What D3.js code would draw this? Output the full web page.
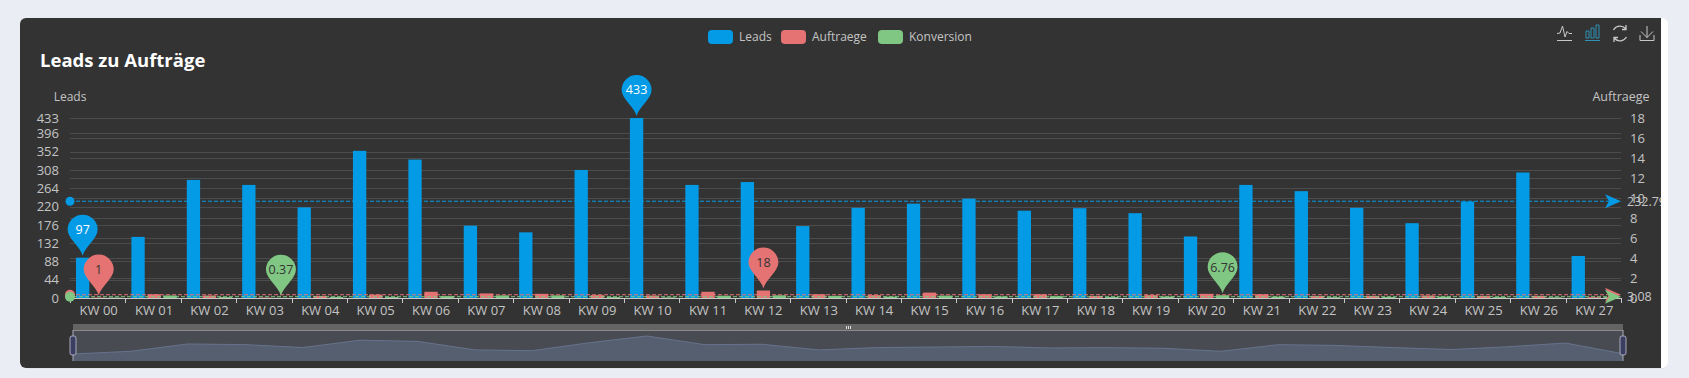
<!DOCTYPE html>
<html><head><meta charset="utf-8">
<script src="https://cdn.jsdelivr.net/npm/d3@7"></script>
<style>html,body{margin:0;padding:0;background:#ebedf5;overflow:hidden}svg{display:block}text{font-family:"Open Sans","Noto Sans",sans-serif}</style>
</head><body><div id="c"></div>
<script>
const categories=["KW 00","KW 01","KW 02","KW 03","KW 04","KW 05","KW 06","KW 07","KW 08","KW 09","KW 10","KW 11","KW 12","KW 13","KW 14","KW 15","KW 16","KW 17","KW 18","KW 19","KW 20","KW 21","KW 22","KW 23","KW 24","KW 25","KW 26","KW 27"];
const leads=[97,147,284,272,218,354,333,174,158,308,433,272,279,173,217,227,239,210,216,204,148,272,257,217,180,232,302,101];
const auftraege=[1,9,6,1,5,8,15,11,10,7,6,15,18,9,7,13,9,9,5,7,10,9,5,5,6,5,5,2];
const konversion=[1.03,6.12,2.11,0.37,2.29,2.26,4.5,6.32,6.33,2.27,1.39,5.51,6.45,5.2,3.23,5.73,3.77,4.29,2.31,3.43,6.76,3.31,1.95,2.3,3.33,2.16,1.66,1.98];
const seriesNames=["Leads","Auftraege","Konversion"];
const seriesColors=["#039be5","#e57373","#81c784"];
const meanValues=[232.79,7.79,3.08];
const meanLabels=["232.79","","3.08"];
const leftTicks=[0,44,88,132,176,220,264,308,352,396,433];
const rightTicks=[0,2,4,6,8,10,12,14,16,18];
const markPoints=[
 {s:0,i:10,label:"433"},{s:0,i:0,label:"97"},
 {s:1,i:12,label:"18"},{s:1,i:0,label:"1"},
 {s:2,i:20,label:"6.76"},{s:2,i:3,label:"0.37"}];

const W=1689,H=378,L=70,R=1621,T=118,B=298;
const svg=d3.select("#c").append("svg").attr("width",W).attr("height",H);
const data=[leads,auftraege,konversion];
const textCol="#c4c4c4";

svg.append("rect").attr("x",24).attr("y",20).attr("width",1644).attr("height",349).attr("rx",6).attr("fill","#e3e5ec");
svg.append("rect").attr("x",1640).attr("y",18).attr("width",28).attr("height",350).attr("rx",6).attr("fill","#fff");
svg.append("path").attr("d","M1661 18H26a6 6 0 0 0-6 6V362a6 6 0 0 0 6 6H1661Z").attr("fill","#333");

const x=d3.scaleBand().domain(categories).range([L+1,R+1]);
const inner=d3.scaleBand().domain(seriesNames).range([-22.7,22.7]).paddingInner(0.17);
const yL=d3.scaleLinear().domain([0,433]).range([B,T]);
const yR=d3.scaleLinear().domain([0,18]).range([B,T]);

svg.append("defs").append("clipPath").attr("id","card").append("rect").attr("x",20).attr("y",18).attr("width",1641).attr("height",350);
const g=svg.append("g").attr("clip-path","url(#card)");

// grid
g.append("g").selectAll("line").data(leftTicks.filter(d=>d>0)).join("line")
 .attr("x1",L).attr("x2",R).attr("y1",d=>Math.round(yL(d))+.5).attr("y2",d=>Math.round(yL(d))+.5).attr("stroke","#4c4c4c");
g.append("g").selectAll("line").data(rightTicks.filter(d=>d>0)).join("line")
 .attr("x1",L).attr("x2",R).attr("y1",d=>Math.round(yR(d))+.5).attr("y2",d=>Math.round(yR(d))+.5).attr("stroke","#4c4c4c");

// bars
seriesNames.forEach((n,si)=>{
 g.append("g").selectAll("rect").data(data[si]).join("rect")
  .attr("x",(d,i)=>x(categories[i])+x.bandwidth()/2+inner(n))
  .attr("width",inner.bandwidth())
  .attr("y",d=>yL(d)).attr("height",d=>B-yL(d)).attr("fill",seriesColors[si]);
});

// x axis
const ax=g.append("g").attr("transform",`translate(0,${B})`).call(d3.axisBottom(x).tickSize(0).tickPadding(8));
ax.select(".domain").attr("stroke","#c8c8c8").attr("d",`M${L},.5H${R}`);
ax.selectAll("text").attr("fill",textCol).attr("font-size",13);
g.append("g").selectAll("line").data([...categories.map(c=>x(c)-1),R]).join("line")
 .attr("x1",d=>Math.round(d)+.5).attr("x2",d=>Math.round(d)+.5).attr("y1",B).attr("y2",B+5).attr("stroke","#c8c8c8");

// y axes
const al=g.append("g").attr("transform",`translate(${L},0)`).call(d3.axisLeft(yL).tickValues(leftTicks).tickSize(0).tickPadding(11));
al.select(".domain").remove();
al.selectAll("text").attr("fill",textCol).attr("font-size",13);
const ar=g.append("g").attr("transform",`translate(${R},0)`).call(d3.axisRight(yR).tickValues(rightTicks).tickSize(0).tickPadding(9));
ar.select(".domain").remove();
ar.selectAll("text").attr("fill",textCol).attr("font-size",13);

g.append("text").attr("x",L).attr("y",101).attr("text-anchor","middle").attr("fill",textCol).attr("font-size",12).text("Leads");
g.append("text").attr("x",R).attr("y",101).attr("text-anchor","middle").attr("fill",textCol).attr("font-size",12.5).text("Auftraege");

// mean lines
meanValues.forEach((m,si)=>{
 const y=yL(m),c=seriesColors[si];
 const mg=g.append("g");
 mg.append("line").attr("x1",L).attr("x2",R-10).attr("y1",y).attr("y2",y).attr("stroke",c).attr("stroke-dasharray","4 2").attr("stroke-dashoffset",si===2?3:0);
 mg.append("circle").attr("cx",L).attr("cy",y).attr("r",si===0?4.5:5).attr("fill",c);
 mg.append("path").attr("d",`M${R},${y}L${R-16},${y-7}L${R-12},${y}L${R-16},${y+7}Z`).attr("fill",c);
 if(meanLabels[si]) mg.append("text").attr("x",R+6).attr("y",y).attr("dy",".35em").attr("fill",textCol).attr("font-size",12.5).text(meanLabels[si]);
});

// pins
markPoints.forEach(p=>{
 const n=seriesNames[p.s],cx=x(categories[p.i])+x.bandwidth()/2+inner(n)+inner.bandwidth()/2;
 const tip=yL(data[p.s][p.i])-2, r=15, cy=tip-26;
 const pg=g.append("g");
 pg.append("path").attr("d",`M${cx},${tip}C${cx-2},${tip-9} ${cx-r},${cy+9} ${cx-r},${cy}A${r},${r} 0 1 1 ${cx+r},${cy}C${cx+r},${cy+9} ${cx+2},${tip-9} ${cx},${tip}Z`).attr("fill",seriesColors[p.s]);
 pg.append("text").attr("x",cx).attr("y",cy).attr("dy",".35em").attr("text-anchor","middle").attr("font-size",12.5)
  .attr("fill",p.s===0?"#fff":"#333").text(p.label);
});

// title
g.append("text").attr("x",40).attr("y",67).attr("fill","#fff").attr("font-size",18.5).attr("font-weight",700).text("Leads zu Aufträge");

// legend
const legX=[708,781,878];
seriesNames.forEach((n,i)=>{
 g.append("rect").attr("x",legX[i]).attr("y",30).attr("width",25).attr("height",14).attr("rx",4).attr("fill",seriesColors[i]);
 g.append("text").attr("x",legX[i]+31).attr("y",41).attr("fill",textCol).attr("font-size",12).text(n);
});

// toolbox
const ic="#c8c8c8";
const tb=g.append("g").attr("fill","none").attr("stroke",ic);
tb.append("path").attr("d","M1557 40.500H1572M1557 33.500L1560 33L1562.500 26L1565 37L1567 31.500L1569 33.500H1572");
const b2=g.append("g").attr("fill","none").attr("stroke","#2f93b5");
b2.append("path").attr("d","M1585 40.500H1600M1586 38V31H1589V38ZM1591 38V28H1594V38ZM1596 38V25H1599V38Z");
tb.append("path").attr("stroke-width",1.3).attr("d","M1613.500 30A7.500 7.500 0 0 1 1625.500 28.500M1626.500 37A7.500 7.500 0 0 1 1614.500 38.500M1626 25V29.500H1622M1614 42V37.500H1618");
tb.append("path").attr("d","M1640 35V40.500H1654V35M1647 26V37.500M1641 31.500L1647 37.500L1653 31.500");

// data zoom
const zx=d3.scalePoint().domain(categories).range([73,1623]);
const zy=d3.scaleLinear().domain([0,433]).range([359.200,336]);
const dz=svg.append("g");
dz.append("rect").attr("x",73).attr("y",324).attr("width",1550).attr("height",6).attr("fill","#646464");
dz.append("rect").attr("x",73).attr("y",330).attr("width",1550).attr("height",31).attr("fill","#484b52");
dz.append("line").attr("x1",73).attr("x2",1623).attr("y1",330.5).attr("y2",330.5).attr("stroke","#8a8a8a");
const area=d3.area().x((d,i)=>zx(categories[i])).y0(361).y1(d=>zy(d));
dz.append("path").datum(leads).attr("d",area).attr("fill","#565f70");
dz.append("path").datum(leads).attr("d",d3.line().x((d,i)=>zx(categories[i])).y(d=>zy(d))).attr("fill","none").attr("stroke","#66738c");
[73,1623].forEach(hx=>{
 dz.append("line").attr("x1",hx).attr("x2",hx).attr("y1",330).attr("y2",361).attr("stroke","#aab");
 dz.append("rect").attr("x",hx-3).attr("y",336).attr("width",6).attr("height",19).attr("rx",2).attr("fill","#3a3f62").attr("stroke","#aab");
});
[846,848,850].forEach(gx=>dz.append("rect").attr("x",gx).attr("y",326).attr("width",1).attr("height",3).attr("fill","#ddd"));
</script></body></html>
